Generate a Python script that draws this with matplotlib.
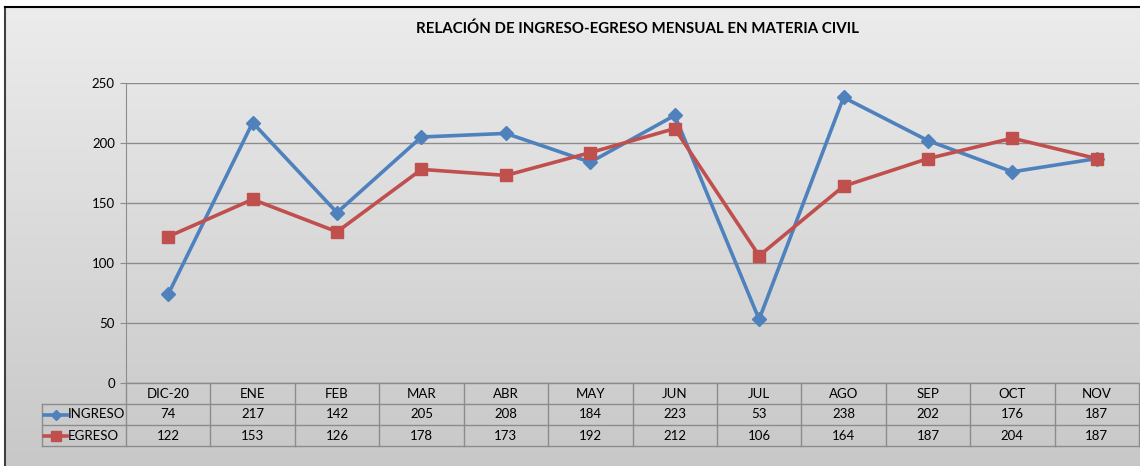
#!/usr/bin/env python3
import numpy as np
import matplotlib
matplotlib.use("Agg")
import matplotlib.pyplot as plt

plt.rcParams['font.family'] = ['Lato', 'DejaVu Sans']

meses = ['DIC-20', 'ENE', 'FEB', 'MAR', 'ABR', 'MAY', 'JUN', 'JUL', 'AGO', 'SEP', 'OCT', 'NOV']
ingreso = [74, 217, 142, 205, 208, 184, 223, 53, 238, 202, 176, 187]
egreso = [122, 153, 126, 178, 173, 192, 212, 106, 164, 187, 204, 187]
titulo = 'RELACIÓN DE INGRESO-EGRESO MENSUAL EN MATERIA CIVIL'

W, H = 1140, 466
azul = '#4F81BD'
rojo = '#C0504D'
linea = '#8c8c8c'
fs = 9.5

fig = plt.figure(figsize=(W / 100, H / 100), dpi=100)
fig.patch.set_facecolor('white')

# fondo con degradado (estilo Excel)
bg = fig.add_axes([5 / W, 0, 1 - 5 / W, 1 - 7 / H])
grad = np.linspace(0, 1, 256).reshape(-1, 1)
bg.imshow(grad, aspect='auto', cmap=matplotlib.colors.LinearSegmentedColormap.from_list(
    'g', ['#ececec', '#c8c8c8']), extent=[0, 1, 0, 1], origin='upper')
bg.set_xlim(0, 1)
bg.set_ylim(0, 1)
bg.set_xticks([])
bg.set_yticks([])
for s in ['right', 'bottom']:
    bg.spines[s].set_visible(False)
bg.spines['top'].set_color('black')
bg.spines['top'].set_linewidth(1.5)
bg.spines['left'].set_color('#404040')
bg.spines['left'].set_linewidth(1.5)

x0, x1 = 126, 1139
y_top, y_bot = 83, 383
ax = fig.add_axes([x0 / W, (H - y_bot) / H, (x1 - x0) / W, (y_bot - y_top) / H])
ax.patch.set_visible(False)
x = np.arange(len(meses))
ax.set_xlim(-0.5, len(meses) - 0.5)
ax.set_ylim(0, 250)
ax.set_yticks(range(0, 251, 50))
ax.yaxis.grid(True, color=linea, linewidth=1)
ax.set_axisbelow(True)
ax.set_xticks([])
for s in ['top', 'right', 'bottom']:
    ax.spines[s].set_visible(False)
ax.spines['left'].set_color(linea)
ax.tick_params(axis='y', length=4, color=linea, labelsize=fs, pad=4)

ax.plot(x, ingreso, color=azul, lw=2.6, marker='D', ms=7, zorder=3)
ax.plot(x, egreso, color=rojo, lw=2.6, marker='s', ms=8.5, zorder=4)

ax.set_title(titulo, fontsize=10.8, fontweight='bold', pad=36, x=0.505)

# tabla de datos
row_h = 21 / (y_bot - y_top)
trans = ax.get_xaxis_transform()
xl = -0.5 - (x0 - 42) / ((x1 - x0) / len(meses))
kw = dict(color=linea, lw=1, clip_on=False, transform=trans)
for i in range(0, 4):
    yy = -i * row_h
    ax.plot([xl if i > 1 else -0.5, len(meses) - 0.5], [yy, yy], **kw)
ax.plot([xl, -0.5], [-row_h, -row_h], **kw)
ax.plot([xl, xl], [-row_h, -3 * row_h], **kw)
for k in range(len(meses) + 1):
    ax.plot([k - 0.5, k - 0.5], [0, -3 * row_h], **kw)

for k, m in enumerate(meses):
    ax.text(k, -0.5 * row_h, m, ha='center', va='center', fontsize=fs, transform=trans)
    ax.text(k, -1.5 * row_h, str(ingreso[k]), ha='center', va='center', fontsize=fs, transform=trans)
    ax.text(k, -2.5 * row_h, str(egreso[k]), ha='center', va='center', fontsize=fs, transform=trans)

for r, (nombre, c, mk, ms) in enumerate([('INGRESO', azul, 'D', 5), ('EGRESO', rojo, 's', 6.5)]):
    yy = -(1.5 + r) * row_h
    ax.plot([xl + 0.02, xl + 0.3], [yy, yy], color=c, lw=2.6, clip_on=False, transform=trans)
    ax.plot([xl + 0.16], [yy], color=c, marker=mk, ms=ms, clip_on=False, transform=trans)
    ax.text(xl + 0.3, yy, nombre, ha='left', va='center', fontsize=fs, transform=trans)

fig.savefig('out.png', dpi=100)
